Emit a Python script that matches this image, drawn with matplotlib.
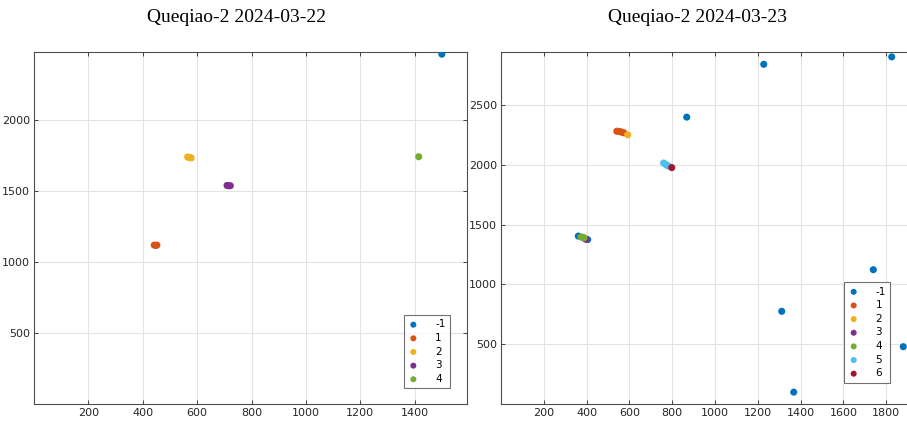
import matplotlib
matplotlib.use("Agg")
from matplotlib import pyplot as plt

# group labels and colours (MATLAB default order)
labels_22 = ["-1", "1", "2", "3", "4"]
labels_23 = ["-1", "1", "2", "3", "4", "5", "6"]
colors = ["#0072BD", "#D95319", "#EDB120", "#7E2F8E", "#77AC30", "#4DBEEE", "#A2142F"]

# 2024-03-22 points per group
x_22 = [
    [1500],
    [442, 447, 452],
    [565, 572, 578],
    [710, 716, 722],
    [1415],
]
y_22 = [
    [2462],
    [1118, 1116, 1118],
    [1738, 1735, 1732],
    [1538, 1536, 1536],
    [1740],
]

# 2024-03-23 points per group
x_23 = [
    [1826, 1228, 868, 1740, 1312, 1880, 1368, 361, 405],
    [541, 550, 558, 566, 574],
    [592],
    [392, 398],
    [374, 382, 388],
    [760, 768, 776, 782],
    [798],
]
y_23 = [
    [2903, 2841, 2399, 1123, 775, 479, 99, 1404, 1375],
    [2281, 2280, 2277, 2272, 2268],
    [2251],
    [1382, 1378],
    [1397, 1394, 1390],
    [2015, 2005, 1996, 1990],
    [1977],
]

titles = ["Queqiao-2 2024-03-22", "Queqiao-2 2024-03-23"]


def style_axes(ax):
    ax.grid(True, color="#e3e3e3", linewidth=0.8)
    ax.set_axisbelow(True)
    ax.tick_params(direction="in", top=True, right=True, labelsize=8,
                   colors="#262626", length=3, width=0.6, pad=3)
    for sp in ax.spines.values():
        sp.set_color("#4d4d4d")
        sp.set_linewidth(0.8)


def draw(ax, xs, ys, labels):
    for i, lab in enumerate(labels):
        ax.scatter(xs[i], ys[i], s=26, color=colors[i], label=lab,
                   edgecolors="none", zorder=3)


def add_legend(ax, anchor):
    leg = ax.legend(loc="lower right", bbox_to_anchor=anchor,
                    fontsize=7.5, fancybox=False, edgecolor="#4d4d4d",
                    handletextpad=1.6, borderpad=0.4, labelspacing=0.35,
                    handlelength=1.0, markerscale=0.85)
    leg.get_frame().set_linewidth(0.8)
    for t in leg.get_texts():
        t.set_ha("right")
    return leg


fig = plt.figure(figsize=(9.07, 4.23), dpi=100)

ax1 = fig.add_axes([0.0375, 0.045, 0.4775, 0.833])
draw(ax1, x_22, y_22, labels_22)
ax1.set_xlim(0, 1593)
ax1.set_ylim(0, 2480)
ax1.set_xticks(range(200, 1600, 200))
ax1.set_yticks([500, 1000, 1500, 2000])
style_axes(ax1)
add_legend(ax1, (0.972, 0.03))

ax2 = fig.add_axes([0.5524, 0.045, 0.46, 0.831])
draw(ax2, x_23, y_23, labels_23)
ax2.set_xlim(0, 1950)
ax2.set_ylim(0, 2940)
ax2.set_xticks(range(200, 2000, 200))
ax2.set_yticks([500, 1000, 1500, 2000, 2500])
style_axes(ax2)
add_legend(ax2, (0.945, 0.046))

fig.text(237 / 907, 1 - 18 / 423, titles[0], ha="center", va="center",
         fontsize=14, family="Liberation Serif")
fig.text(698 / 907, 1 - 18 / 423, titles[1], ha="center", va="center",
         fontsize=14, family="Liberation Serif")

fig.savefig("out.png", dpi=100)
